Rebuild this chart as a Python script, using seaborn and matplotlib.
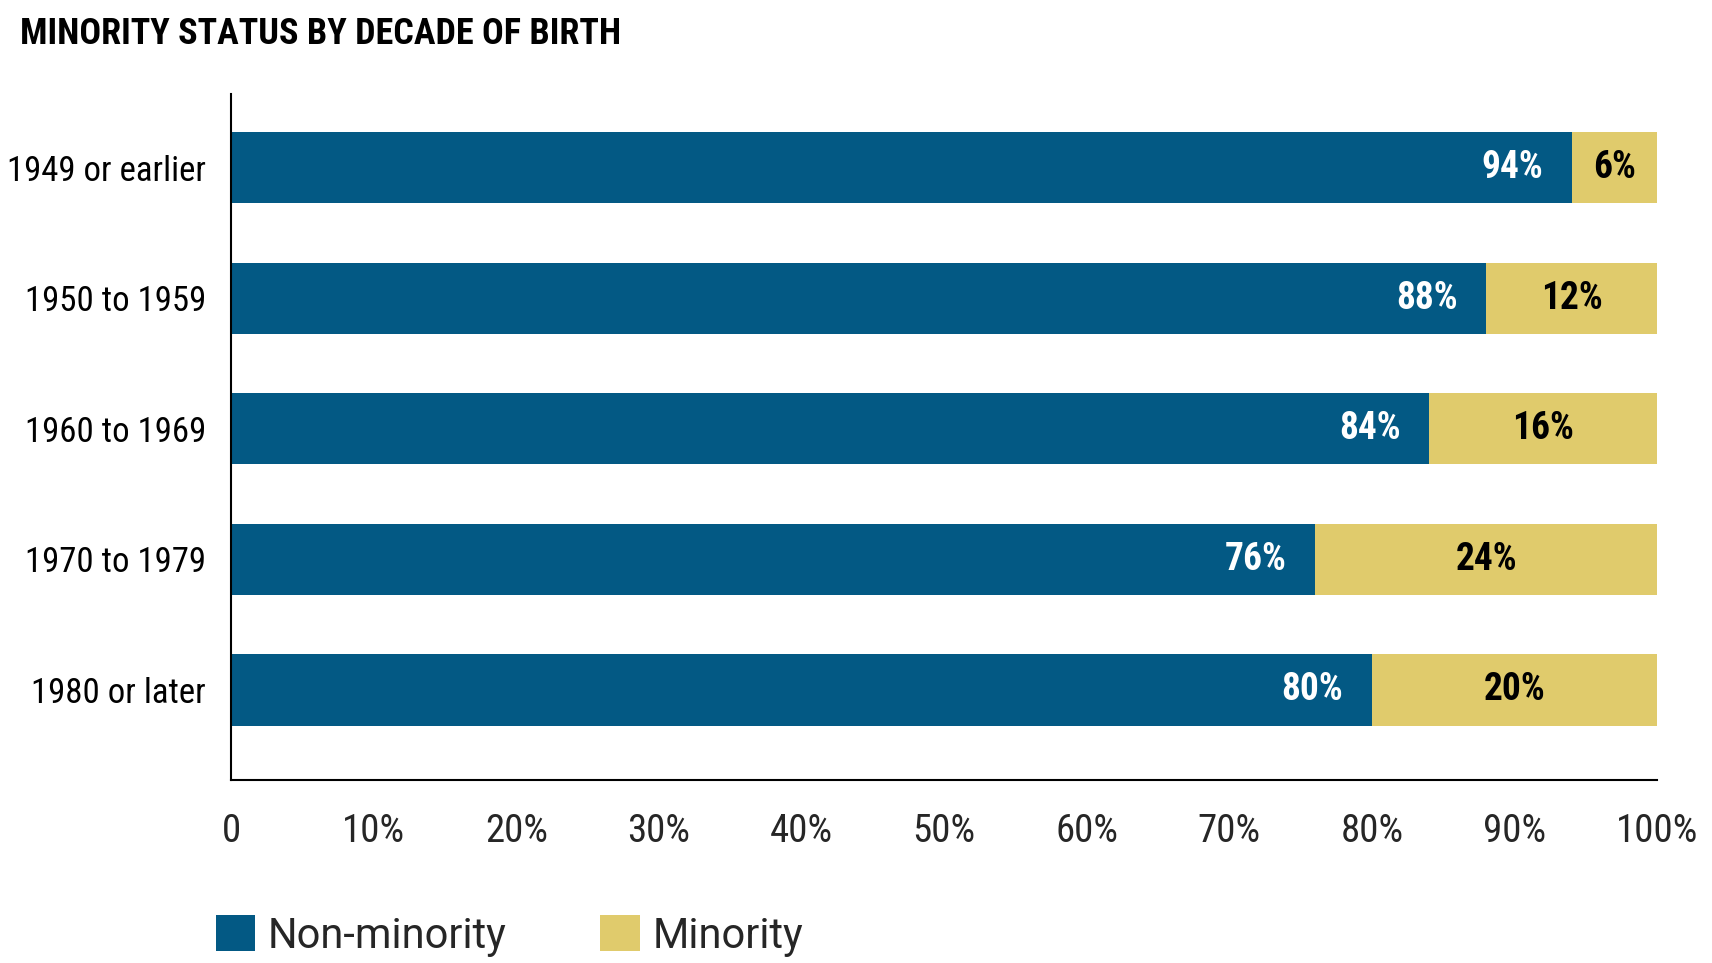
import matplotlib
matplotlib.use("Agg")
import matplotlib.pyplot as plt
from matplotlib import font_manager as fm
from matplotlib.patches import Patch
import seaborn as sns
import pandas as pd

# ---- data ----
categories = ["1949 or earlier", "1950 to 1959", "1960 to 1969", "1970 to 1979", "1980 or later"]
non_minority = [94, 88, 84, 76, 80]
minority = [6, 12, 16, 24, 20]
x_ticks = [0, 10, 20, 30, 40, 50, 60, 70, 80, 90, 100]
x_tick_labels = ["0", "10%", "20%", "30%", "40%", "50%", "60%", "70%", "80%", "90%", "100%"]
title = "MINORITY STATUS BY DECADE OF BIRTH"
series_names = ["Non-minority", "Minority"]

BLUE = "#035984"
GOLD = "#E0CB6C"

sns.set_theme(style="white")

# pick a condensed family if one is installed
names = {f.name for f in fm.fontManager.ttflist}
cond_family = None
for cand in ["Roboto Condensed", "Liberation Sans Narrow", "Open Sans Condensed",
             "DejaVu Sans Condensed", "Noto Sans Condensed", "Noto Sans Display Condensed"]:
    if cand in names:
        cond_family = cand
        break
stretch = "normal"
if cond_family is None:
    condfonts = [f for f in fm.fontManager.ttflist
                 if str(f.stretch) in ("condensed", "semi-condensed", "extra-condensed")]
    if condfonts:
        cond_family = condfonts[0].name
        stretch = "condensed"
    else:
        cond_family = "DejaVu Sans"
        stretch = "condensed"

plt.rcParams["font.family"] = [cond_family, "DejaVu Sans"]

df = pd.DataFrame({"category": categories, "non": non_minority, "min": minority})
df["total"] = df["non"] + df["min"]

fig = plt.figure(figsize=(17.12, 9.63), dpi=100)
ax = fig.add_axes([0.135, 0.19, 0.833, 0.712])

sns.barplot(data=df, y="category", x="total", color=GOLD, orient="h",
            width=0.545, ax=ax, saturation=1, linewidth=0)
sns.barplot(data=df, y="category", x="non", color=BLUE, orient="h",
            width=0.545, ax=ax, saturation=1, linewidth=0)

ax.set_xlim(0, 100)
ax.set_ylim(4.69, -0.56)
ax.set_xlabel("")
ax.set_ylabel("")

for i, (n, m) in enumerate(zip(non_minority, minority)):
    ax.text(n - 2.0, i, f"{n}%", ha="right", va="center", color="white",
            fontsize=27, fontweight="bold", fontstretch=stretch)
    ax.text(n + m / 2, i, f"{m}%", ha="center", va="center", color="black",
            fontsize=27, fontweight="bold", fontstretch=stretch)

ax.set_xticks(x_ticks)
ax.set_xticklabels(x_tick_labels, fontsize=28, fontstretch=stretch)
ax.tick_params(axis="x", direction="in", length=13, width=1.5, color="black", pad=24)
ax.tick_params(axis="y", length=0, pad=18)
for lbl in ax.get_yticklabels():
    lbl.set_fontsize(25)
    lbl.set_fontstretch(stretch)
    lbl.set_color("black")

sns.despine(ax=ax, top=True, right=True)
for s in ["left", "bottom"]:
    ax.spines[s].set_color("black")
    ax.spines[s].set_linewidth(1.5)

fig.text(0.0115, 0.965, title, fontsize=26, fontweight="bold", fontstretch=stretch,
         ha="left", va="center", color="black")

handles = [Patch(facecolor=BLUE, edgecolor="none"), Patch(facecolor=GOLD, edgecolor="none")]
fig.legend(handles, series_names, loc="center left", bbox_to_anchor=(0.104, 0.028),
           ncol=2, frameon=False, handlelength=0.95, handleheight=0.95,
           handletextpad=0.3, columnspacing=2.25,
           prop={"family": ["Roboto", "DejaVu Sans"], "size": 30})

fig.savefig("out.png", dpi=100)
